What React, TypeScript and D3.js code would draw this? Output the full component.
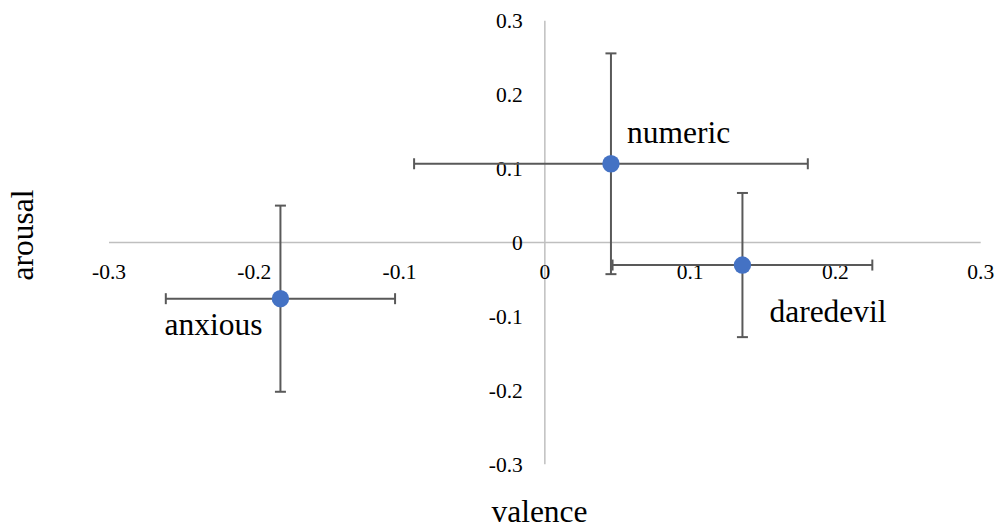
import React from "react";
import * as d3 from "d3";

// Emotion profiles: mean valence / arousal with ± error
const names = ["numeric", "daredevil", "anxious"];
const valence = [0.0455, 0.136, -0.182];
const arousal = [0.1065, -0.0305, -0.076];
const valenceErr = [0.1355, 0.0894, 0.0789];
const arousalErr = [0.1493, 0.0975, 0.1259];
const tickValues = [-0.3, -0.2, -0.1, 0, 0.1, 0.2, 0.3];

// Label placement relative to each point (dx, dy to start/baseline)
const labelDx = [16, 27, -18];
const labelDy = [-21, 57, 36];
const labelAnchor = ["start", "start", "end"];

const W = 998;
const H = 527;

export default function App() {
  const x = d3.scaleLinear().domain([-0.3, 0.3]).range([109, 980.7]);
  const y = d3.scaleLinear().domain([-0.3, 0.3]).range([464.3, 20.7]);
  const fmt = (v: number) =>
    Math.abs(v) < 1e-9 ? "0" : d3.format(".1f")(v).replace("\u2212", "-");
  const x0 = x(0);
  const y0 = y(0);
  const cap = 5.5;
  const barColor = "#595959";

  return (
    <svg width={W} height={H} style={{ position: "absolute", left: 0, top: 0, background: "#fff" }}>
      <style>{`
        .tick-label { font-family: "Times New Roman", "Liberation Serif", Times, serif; font-size: 21.5px; fill: #000; }
        .big-label { font-family: "Times New Roman", "Liberation Serif", Times, serif; font-size: 31.5px; fill: #000; }
      `}</style>

      {/* axes crossing at origin */}
      <line x1={x(-0.3)} x2={x(0.3)} y1={y0} y2={y0} stroke="#bfbfbf" strokeWidth={1.5} />
      <line x1={x0} x2={x0} y1={y(0.3)} y2={y(-0.3)} stroke="#bfbfbf" strokeWidth={1.5} />

      {/* tick labels */}
      {tickValues.map((v) => (
        <text key={"xt" + v} className="tick-label" x={x(v)} y={y0 + 36.5} textAnchor="middle">
          {fmt(v)}
        </text>
      ))}
      {tickValues.map((v) => (
        <text key={"yt" + v} className="tick-label" x={x0 - 22} y={y(v) + 7.5} textAnchor="end">
          {fmt(v)}
        </text>
      ))}

      {/* error bars */}
      {names.map((n, i) => {
        const cx = x(valence[i]);
        const cy = y(arousal[i]);
        const xl = x(valence[i] - valenceErr[i]);
        const xr = x(valence[i] + valenceErr[i]);
        const yt = y(arousal[i] + arousalErr[i]);
        const yb = y(arousal[i] - arousalErr[i]);
        return (
          <g key={"eb" + n} stroke={barColor} strokeWidth={2} fill="none">
            <line x1={xl} x2={xr} y1={cy} y2={cy} />
            <line x1={xl} x2={xl} y1={cy - cap} y2={cy + cap} />
            <line x1={xr} x2={xr} y1={cy - cap} y2={cy + cap} />
            <line x1={cx} x2={cx} y1={yt} y2={yb} />
            <line x1={cx - cap} x2={cx + cap} y1={yt} y2={yt} />
            <line x1={cx - cap} x2={cx + cap} y1={yb} y2={yb} />
          </g>
        );
      })}

      {/* points */}
      {names.map((n, i) => (
        <circle key={"pt" + n} cx={x(valence[i])} cy={y(arousal[i])} r={8.7} fill="#4472c4" />
      ))}

      {/* point labels */}
      {names.map((n, i) => (
        <text
          key={"lb" + n}
          className="big-label"
          x={x(valence[i]) + labelDx[i]}
          y={y(arousal[i]) + labelDy[i]}
          textAnchor={labelAnchor[i] as any}
        >
          {n}
        </text>
      ))}

      {/* axis titles */}
      <text className="big-label" x={539.5} y={521.5} textAnchor="middle">
        valence
      </text>
      <text className="big-label" transform="translate(33,235) rotate(-90)" textAnchor="middle">
        arousal
      </text>
    </svg>
  );
}
